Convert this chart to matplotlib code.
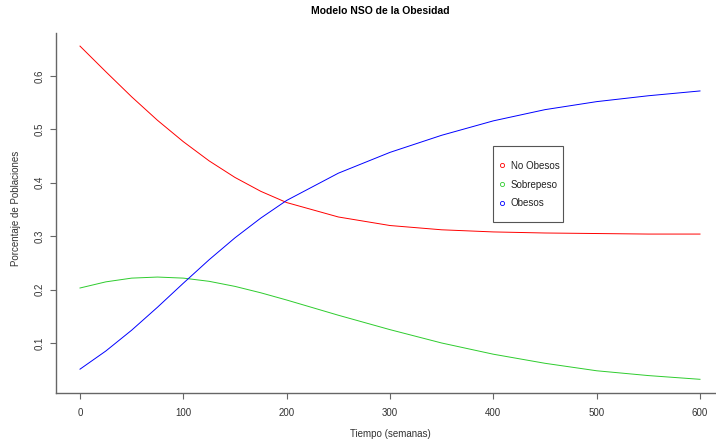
import matplotlib
matplotlib.use("Agg")
import matplotlib.pyplot as plt
from matplotlib.lines import Line2D
from matplotlib.patches import Rectangle

# valores (semanas vs proporcion de poblacion)
semanas = [0, 25, 50, 75, 100, 125, 150, 175, 200, 250, 300, 350, 400, 450, 500, 550, 600]
no_obesos = [0.656, 0.608, 0.561, 0.517, 0.477, 0.441, 0.410, 0.384, 0.363, 0.336, 0.320, 0.312, 0.308, 0.306, 0.305, 0.304, 0.304]
sobrepeso = [0.203, 0.2145, 0.2215, 0.2235, 0.2215, 0.2155, 0.206, 0.194, 0.1805, 0.152, 0.125, 0.100, 0.079, 0.062, 0.048, 0.039, 0.032]
obesos = [0.051, 0.085, 0.124, 0.167, 0.212, 0.256, 0.297, 0.334, 0.367, 0.418, 0.457, 0.489, 0.516, 0.537, 0.552, 0.563, 0.572]

nombres = ["No Obesos", "Sobrepeso", "Obesos"]
colores = ["#ff0000", "#2ecc2e", "#0000ff"]
xticks = [0, 100, 200, 300, 400, 500, 600]
yticks = [0.1, 0.2, 0.3, 0.4, 0.5, 0.6]

plt.rcParams['font.family'] = ['Liberation Sans', 'DejaVu Sans']

W, H = 716, 447
fig = plt.figure(figsize=(W / 100, H / 100), dpi=100)

# region del grafico en pixeles (estilo R, bty="l")
x0, x1, y0, y1 = 56, 716, 33, 393
ax = fig.add_axes([x0 / W, 1 - y1 / H, (x1 - x0) / W, (y1 - y0) / H])

for serie, col in zip([no_obesos, sobrepeso, obesos], colores):
    ax.plot(semanas, serie, color=col, lw=0.7)

ax.set_xlim((x0 - 80) / (620 / 600), (x1 - 80) / (620 / 600))
ax.set_ylim(0.6 - (y1 - 76) / 534, 0.6 + (76 - y0) / 534)

gris = "#666666"
for s in ["top", "right"]:
    ax.spines[s].set_visible(False)
for s in ["left", "bottom"]:
    ax.spines[s].set_color(gris)
    ax.spines[s].set_linewidth(1.0)

ax.set_xticks(xticks)
ax.set_xticklabels([str(t) for t in xticks])
ax.set_yticks(yticks)
ax.set_yticklabels([f"{v:.1f}" for v in yticks])
ax.tick_params(direction="out", length=4, width=0.8, color=gris,
               labelsize=7, labelcolor="#333333")
ax.tick_params(axis="x", pad=7)
ax.tick_params(axis="y", pad=4)
for lab in ax.get_yticklabels():
    lab.set_rotation(90)
    lab.set_va("center")
    lab.set_ha("right")

fig.text(380 / W, 1 - 11 / H, "Modelo NSO de la Obesidad", ha="center", va="center",
         fontsize=7.5, fontweight="bold", color="black")
fig.text(390 / W, 1 - 434 / H, "Tiempo (semanas)", ha="center", va="center",
         fontsize=7, color="#333333")
fig.text(16 / W, 1 - 208 / H, "Porcentaje de Poblaciones", ha="center", va="center",
         rotation=90, fontsize=7, color="#333333")

# leyenda con caja dibujada a mano
fig.add_artist(Rectangle((493 / W, 1 - 222 / H), 70 / W, 76 / H, transform=fig.transFigure,
                         fill=False, edgecolor="#555555", lw=0.8))
handles = [Line2D([], [], ls="none", marker="o", markersize=3, markerfacecolor="none",
                  markeredgecolor=c, markeredgewidth=0.6) for c in colores]
fig.legend(handles, nombres, loc="center left", bbox_to_anchor=(498 / W, 1 - 184.5 / H),
           frameon=False, fontsize=7, handlelength=0.8, handletextpad=0.5,
           labelspacing=0.9, borderpad=0, borderaxespad=0, labelcolor="#222222")

fig.savefig("out.png", dpi=100)
